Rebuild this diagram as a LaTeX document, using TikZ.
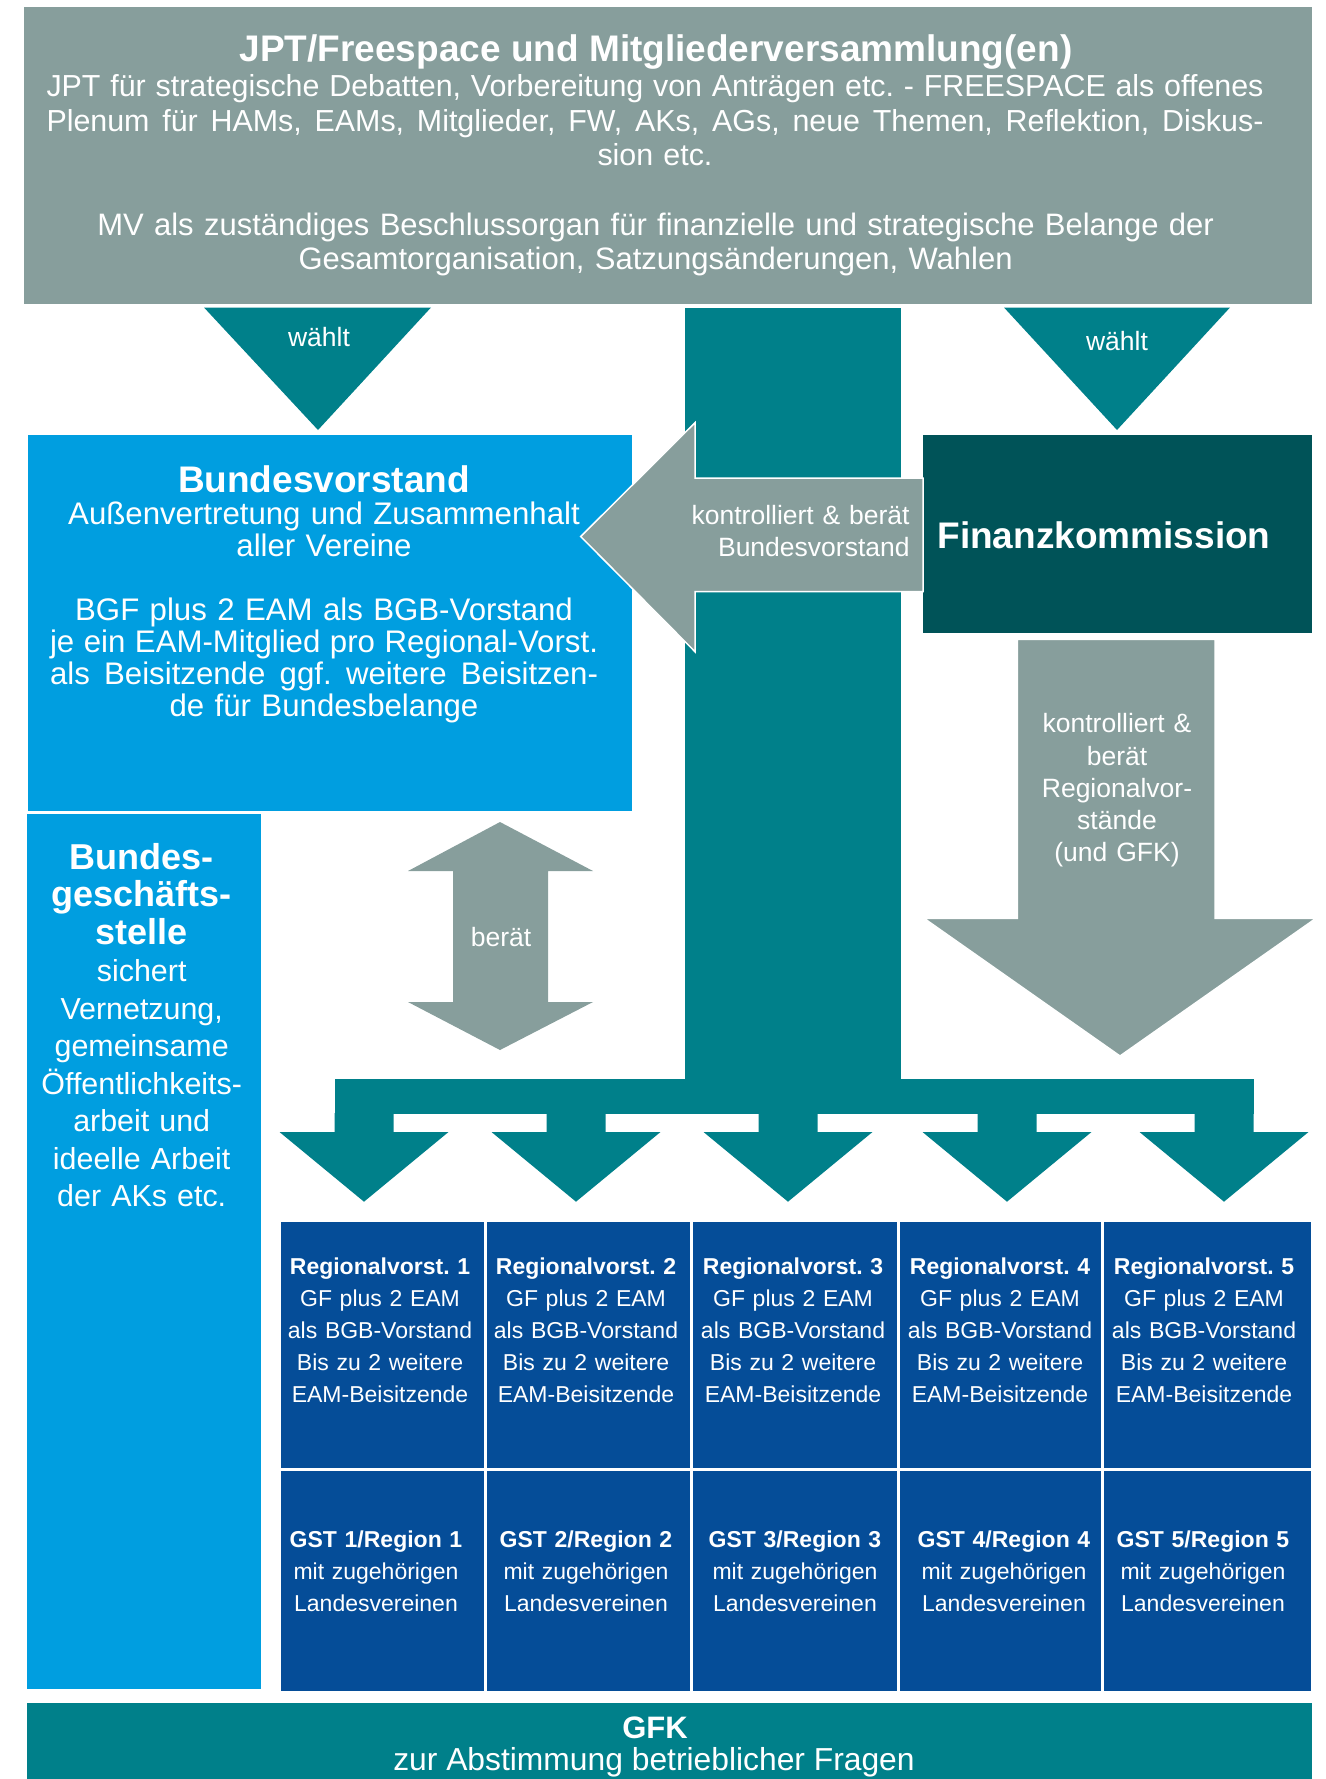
\documentclass[tikz,border=0pt]{standalone}
\usepackage{fontspec}
\setmainfont{Liberation Sans}
\frenchspacing
\definecolor{gris}{HTML}{879E9C}
\definecolor{petrole}{HTML}{00808A}
\definecolor{sapin}{HTML}{005358}
\definecolor{ciel}{HTML}{009EE0}
\definecolor{marine}{HTML}{054D98}
% ligne justifiee sur une largeur donnee
\newcommand{\justifie}[2]{\makebox[#1][s]{\spaceskip=0.278em plus 1em minus 0.06em\relax #2}}

\tikzset{
  texte/.style={text=white, inner sep=0pt, anchor=base, align=center},
  titre/.style={texte, font=\fontsize{18.5}{20}\selectfont\bfseries},
  corps/.style={texte, text width=#1, font=\fontsize{15.5}{17.25}\selectfont},
  corpsbv/.style={texte, text width=290pt, font=\fontsize{15.6}{16}\selectfont},
  legende/.style={texte, text width=#1, font=\fontsize{13.25}{16.15}\selectfont},
  bgs/.style={texte, text width=115pt, font=\fontsize{15.2}{18.75}\selectfont},
  region/.style={texte, text width=100pt, font=\fontsize{11.5}{16}\selectfont},
  fleche/.style={fill=gris, draw=white, line width=0.75pt},
  case/.style={fill=marine, draw=white, line width=1.5pt}
}

\begin{document}
\begin{tikzpicture}[x=0.5pt, y=-0.5pt]
\useasboundingbox (0,0) rectangle (1326,1779) ;
% box JPT/Freespace und MV
\fill[gris] (24,6.5) rectangle (1311.5,303.5) ;
\node[titre] (jpt) at (656,61.7) {JPT/Freespace und Mitgliederversammlung(en)} ;
\node[corps=620pt, font=\fontsize{15.2}{17.25}\selectfont] (freespace) at (655,96.7) {\justifie{608.5pt}{JPT für strategische Debatten, Vorbereitung von Anträgen etc. - FREESPACE als offenes}\\
  \justifie{608.5pt}{Plenum für HAMs, EAMs, Mitglieder, FW, AKs, AGs, neue Themen, Reflektion, Diskus-}\\
  sion etc.} ;
\node[corps=620pt] (mv) at (655.6,235) {MV als zuständiges Beschlussorgan für finanzielle und strategische Belange der\\
  Gesamtorganisation, Satzungsänderungen, Wahlen} ;
% fleches wählt
\fill[petrole] (204,307.5) -- (431,307.5) -- (318,430) -- cycle ;
\node[legende=60pt] (waehltbv) at (319,346.7) {wählt} ;
\fill[petrole] (1004,307.5) -- (1230,307.5) -- (1117,430) -- cycle ;
\node[legende=60pt] (waehltfk) at (1117,350) {wählt} ;
% tronc central et cinq fleches
\fill[petrole] (685,307.5) rectangle (901,1080) ;
\fill[petrole] (334.5,1079) rectangle (1253.5,1113.5) ;
\foreach \cx in {364,576,788,1007,1224}
  \fill[petrole] (\cx-29.5,1113) -- (\cx-29.5,1132) -- (\cx-84.5,1132) -- (\cx,1201.7)
    -- (\cx+84.5,1132) -- (\cx+29.5,1132) -- (\cx+29.5,1113) -- cycle ;
% box Bundesvorstand
\filldraw[ciel, draw=white, line width=0.5pt] (27,434.5) rectangle (632.5,811) ;
\node[titre] (bv) at (324,492.3) {Bundesvorstand} ;
\node[corpsbv] (bvtexte) at (324,524.3) {Außenvertretung und Zusammenhalt\\ aller Vereine} ;
\node[corpsbv] (bvmitglieder) at (324,620) {BGF plus 2 EAM als BGB-Vorstand\\
  \justifie{274pt}{je ein EAM-Mitglied pro Regional-Vorst.}\\
  \justifie{274pt}{als Beisitzende ggf. weitere Beisitzen-}\\
  de für Bundesbelange} ;
% box Bundesgeschaeftsstelle
\filldraw[ciel, draw=white, line width=0.5pt] (26.5,813.5) rectangle (261,1689.5) ;
\node[bgs, font=\fontsize{18}{18.75}\selectfont\bfseries] (bgs) at (141.7,869.3) {Bundes-\\ geschäfts-\\ stelle} ;
\node[bgs] (bgstexte) at (141.7,981.7) {sichert\\ Vernetzung,\\ gemeinsame\\ Öffentlichkeits-\\ arbeit und\\ ideelle Arbeit\\ der AKs etc.} ;
% box Finanzkommission
\fill[sapin] (923,435) rectangle (1311.5,633) ;
\node[titre] (fk) at (1104,548.6) {Finanzkommission} ;
% fleche vers le Bundesvorstand
\draw[fleche] (923,478) -- (695,478) -- (695,422.7) -- (580.7,536.5) -- (695,651.7)
  -- (695,591.7) -- (923,591.7) -- cycle ;
\node[legende=120pt, align=right, anchor=base east] (kontrollebv) at (910,524) {kontrolliert \& berät\\ Bundesvorstand} ;
% fleche vers les regions
\draw[fleche] (1017.3,639.3) -- (1215,639.3) -- (1215,918.3) -- (1316,918.3) -- (1120,1056)
  -- (924,918.3) -- (1017.3,918.3) -- cycle ;
\node[legende=90pt] (kontrollerv) at (1117,732.7) {kontrolliert \&\\ berät\\ Regionalvor-\\ stände\\ (und GFK)} ;
% double fleche
\fill[gris] (500,822) -- (593,871) -- (548,871) -- (548,1002) -- (593,1002) -- (500,1050)
  -- (408,1002) -- (453,1002) -- (453,871) -- (408,871) -- cycle ;
\node[legende=60pt] (beraet) at (501,946) {berät} ;
% regions
\foreach \x/\xx in {279/485, 485/691, 691/898, 898/1102, 1102/1312} {
  \draw[case] (\x,1220.5) rectangle (\xx,1469) ;
  \draw[case] (\x,1469) rectangle (\xx,1692) ;
}
\foreach \n/\cx/\cg in {1/380/376, 2/586/586, 3/793/795, 4/1000/1004, 5/1204/1203} {
  \node[region] (rv\n) at (\cx,1274.3) {\textbf{Regionalvorst. \n}\\ GF plus 2 EAM\\ als BGB-Vorstand\\ Bis zu 2 weitere\\ EAM-Beisitzende} ;
  \node[region] (gst\n) at (\cg,1547.3) {\textbf{GST \n/Region \n}\\ mit zugehörigen\\ Landesvereinen} ;
}
% box GFK
\fill[petrole] (27,1703) rectangle (1311.5,1779) ;
\node[texte, font=\fontsize{15.5}{16}\selectfont\bfseries] (gfk) at (655,1738) {GFK} ;
\node[texte, font=\fontsize{15.9}{16}\selectfont] (gfktexte) at (654,1770) {zur Abstimmung betrieblicher Fragen} ;
\end{tikzpicture}
\end{document}
